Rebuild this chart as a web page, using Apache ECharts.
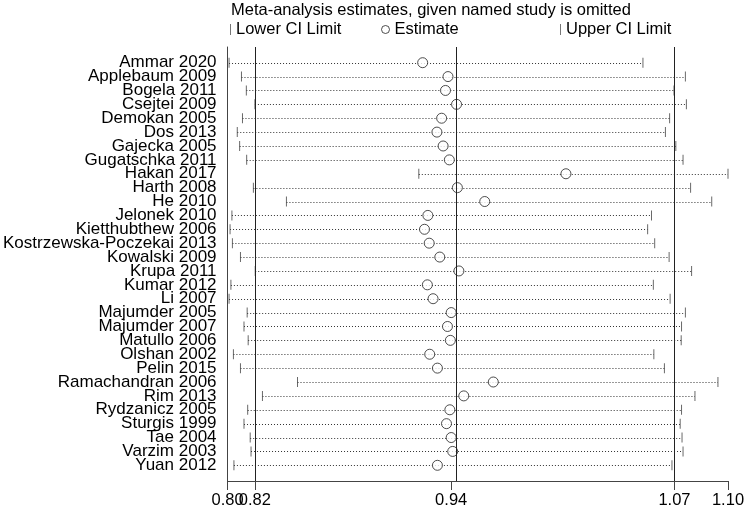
<!DOCTYPE html>
<html>
<head>
<meta charset="utf-8">
<script src="https://cdn.jsdelivr.net/npm/echarts@6/dist/echarts.min.js"></script>
<style>
html,body{margin:0;padding:0;background:#fff;}
#chart{width:750px;height:509px;}
</style>
</head>
<body>
<div id="chart"></div>
<script>
const studies = ["Ammar 2020","Applebaum 2009","Bogela 2011","Csejtei 2009","Demokan 2005","Dos 2013","Gajecka 2005","Gugatschka 2011","Hakan 2017","Harth 2008","He 2010","Jelonek 2010","Kietthubthew 2006","Kostrzewska-Poczekai 2013","Kowalski 2009","Krupa 2011","Kumar 2012","Li 2007","Majumder 2005","Majumder 2007","Matullo 2006","Olshan 2002","Pelin 2015","Ramachandran 2006","Rim 2013","Rydzanicz 2005","Sturgis 1999","Tae 2004","Varzim 2003","Yuan 2012"];
const estimate = [0.9198,0.9349,0.9334,0.9400,0.9311,0.9283,0.9320,0.9357,1.0052,0.9405,0.9568,0.9229,0.9209,0.9237,0.9300,0.9414,0.9226,0.9260,0.9368,0.9346,0.9363,0.9240,0.9286,0.9619,0.9443,0.9360,0.9340,0.9368,0.9377,0.9286];
const lowerCI = [0.8044,0.8118,0.8147,0.8198,0.8124,0.8093,0.8107,0.8149,0.9175,0.8189,0.8386,0.8061,0.8050,0.8064,0.8112,0.8200,0.8055,0.8044,0.8152,0.8133,0.8158,0.8070,0.8112,0.8452,0.8243,0.8155,0.8133,0.8170,0.8175,0.8073];
const upperCI = [1.0511,1.0764,1.0696,1.0770,1.0670,1.0645,1.0707,1.0750,1.1018,1.0795,1.0921,1.0562,1.0539,1.0581,1.0667,1.0801,1.0573,1.0673,1.0764,1.0741,1.0739,1.0576,1.0639,1.0958,1.0821,1.0741,1.0733,1.0744,1.0750,1.0684];
const xTickValues = [0.8035,0.8198,0.9368,1.0699,1.1018];
const refLines = [0.8198,0.9368,1.0699];

const FONT = "'Liberation Sans', Arial, sans-serif";
const rowIdx = studies.map((s,i)=>i);
const evenRows = rowIdx.filter(i=>i%2===0);
const oddRows = rowIdx.filter(i=>i%2===1);
const legendText = {fontFamily:FONT, fontSize:16.5, color:'#000'};
const xMin = xTickValues[0], xMax = xTickValues[xTickValues.length-1];
const yMin = -1.13, yMax = studies.length-1+1.13;
const xLabelStyle = {fontFamily:FONT, fontSize:16.5, color:'#000', margin:11,
  formatter:v=>Number(v).toFixed(2), showMinLabel:true, showMaxLabel:true, hideOverlap:false};
const yLabelStyle = {margin:11, formatter:v=>studies[Math.round(v)] || '',
  showMinLabel:true, showMaxLabel:true, hideOverlap:false,
  fontFamily:FONT, fontSize:17, color:'#000'};

const chart = echarts.init(document.getElementById('chart'), null, {renderer:'canvas'});
chart.setOption({
  animation:false,
  backgroundColor:'#fff',
  title:{
    text:'Meta-analysis estimates, given named study is omitted',
    left:231, top:2, padding:0,
    textStyle:{fontFamily:FONT, fontSize:16.5, fontWeight:'normal', color:'#000'}
  },
  legend:[
    {data:['Lower CI Limit'], left:230, top:21, padding:0, selectedMode:false, icon:'rect', itemWidth:1, itemHeight:11,
     itemStyle:{color:'#555'}, textStyle:legendText},
    {data:['Estimate'], left:381, top:21, padding:0, selectedMode:false, icon:'circle', itemWidth:8, itemHeight:8,
     itemStyle:{color:'#fff', borderColor:'#222', borderWidth:1}, textStyle:legendText},
    {data:['Upper CI Limit'], left:560, top:21, padding:0, selectedMode:false, icon:'rect', itemWidth:1, itemHeight:11,
     itemStyle:{color:'#555'}, textStyle:legendText}
  ],
  grid:{left:227, top:47, width:501, height:435, containLabel:false},
  xAxis:[
    {
      type:'value', position:'bottom', min:xMin, max:xMax,
      axisLine:{show:true, onZero:false, lineStyle:{color:'#444', width:1}},
      axisTick:{show:true, customValues:xTickValues, length:9, lineStyle:{color:'#444'}},
      axisLabel:Object.assign({customValues:xTickValues.slice(1)}, xLabelStyle),
      splitLine:{show:false}
    },
    {
      type:'value', position:'bottom', offset:0, min:xMin, max:xMax,
      axisLine:{show:false, onZero:false},
      axisTick:{show:false},
      axisLabel:Object.assign({customValues:[xMin]}, xLabelStyle),
      splitLine:{show:false}
    }
  ],
  yAxis:[
    {
      type:'value', position:'left', inverse:true, min:yMin, max:yMax,
      axisLine:{show:true, onZero:false, lineStyle:{color:'#444', width:1}},
      axisTick:{show:false},
      axisLabel:Object.assign({customValues:evenRows}, yLabelStyle),
      splitLine:{show:false}
    },
    {
      type:'value', position:'left', offset:0, inverse:true, min:yMin, max:yMax,
      axisLine:{show:false, onZero:false},
      axisTick:{show:false},
      axisLabel:Object.assign({customValues:oddRows}, yLabelStyle),
      splitLine:{show:false}
    }
  ],
  series:[
    {
      type:'custom', name:'ci', silent:true, z:1,
      data:lowerCI.map((l,i)=>[l, upperCI[i], i]),
      encode:{x:[0,1], y:2},
      renderItem:function(params, api){
        const p1 = api.coord([api.value(0), api.value(2)]);
        const p2 = api.coord([api.value(1), api.value(2)]);
        const y = Math.round(p1[1]) + 0.5;
        return {type:'line', shape:{x1:p1[0], y1:y, x2:p2[0], y2:y},
          style:{stroke:'#333', lineWidth:1, lineDash:[1,2]}};
      },
      markLine:{
        silent:true, symbol:'none', label:{show:false},
        lineStyle:{color:'#222', width:1, type:'solid'},
        data:refLines.map(v=>({xAxis:v}))
      }
    },
    {
      type:'scatter', name:'Lower CI Limit', z:2, silent:true,
      symbol:'rect', symbolSize:[1,10],
      itemStyle:{color:'#444'},
      data:lowerCI.map((v,i)=>[v,i])
    },
    {
      type:'scatter', name:'Upper CI Limit', z:2, silent:true,
      symbol:'rect', symbolSize:[1,10],
      itemStyle:{color:'#444'},
      data:upperCI.map((v,i)=>[v,i])
    },
    {
      type:'scatter', name:'Estimate', z:3, silent:true,
      symbol:'circle', symbolSize:10,
      itemStyle:{color:'#fff', borderColor:'#222', borderWidth:1},
      data:estimate.map((v,i)=>[v,i])
    }
  ]
});
</script>
</body>
</html>
